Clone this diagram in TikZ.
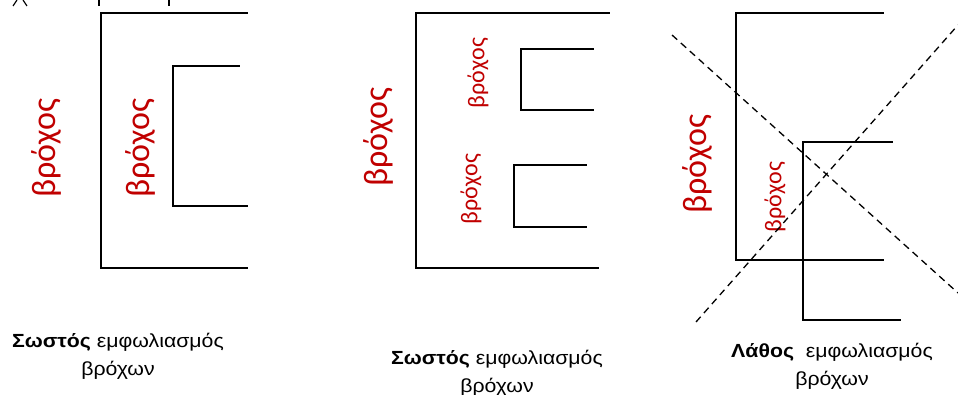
\documentclass[tikz,border=0pt]{standalone}
\usepackage{fontspec}
\setmainfont{Liberation Sans}
\newfontfamily\redfont{Carlito}
\newfontfamily\capfont[FakeStretch=1.12]{Liberation Sans}
\definecolor{loopred}{HTML}{C00000}
\tikzset{
  wire/.style={line width=1.7pt, line cap=rect},
  cross/.style={line width=1.3pt, dash pattern=on 7pt off 5pt},
  bigloop/.style={text=loopred, font=\redfont\fontsize{34}{34}\selectfont, rotate=90, inner sep=0pt},
  smallloop/.style={text=loopred, font=\redfont\fontsize{24}{24}\selectfont, rotate=90, inner sep=0pt},
  caption/.style={font=\capfont\fontsize{19}{28}\selectfont, align=center, inner sep=0pt, anchor=base},
}
\begin{document}
\begin{tikzpicture}[x=1pt,y=-1pt]
\useasboundingbox (0,0) rectangle (958,395);
% cut-off fragments at the top
\draw[line width=1.2pt] (13,6) -- (17,0) (27,6) -- (23,0);
\draw[line width=1.4pt] (99,0) -- (99,6) (169,0) -- (169,6);
% panel 1
\draw[wire] (247,13) -- (101,13) -- (101,268) -- (247,268);
\draw[wire] (239,66) -- (173,66) -- (173,206) -- (247,206);
\node[bigloop] (l1a) at (46,148) {βρόχος};
\node[bigloop] (l1b) at (140,148) {βρόχος};
% panel 2
\draw[wire] (609,13) -- (416,13) -- (416,268) -- (598,268);
\draw[wire] (593,49) -- (521,49) -- (521,110) -- (593,110);
\draw[wire] (586,165) -- (514,165) -- (514,227) -- (586,227);
\node[bigloop] (l2a) at (378,137) {βρόχος};
\node[smallloop] (l2b) at (478,73) {βρόχος};
\node[smallloop] (l2c) at (471,189) {βρόχος};
% panel 3
\draw[wire] (883,13) -- (736,13) -- (736,260) -- (883,260);
\draw[wire] (892,142) -- (803,142) -- (803,320) -- (900,320);
\node[bigloop] (l3a) at (697,164) {βρόχος};
\node[smallloop] (l3b) at (775,197) {βρόχος};
\coordinate (d1s) at (672,35);
\coordinate (d1e) at (958,293);
\coordinate (d2s) at (696,322);
\coordinate (d2e) at (958,25);
\draw[cross] (d1s) -- (d1e);
\draw[cross] (d2s) -- (d2e);
% captions
\node[caption] (c1) at (118,375) {\textbf{Σωστός} εμφωλιασμός\\βρόχων};
\node[caption] (c2) at (497,392) {\textbf{Σωστός} εμφωλιασμός\\βρόχων};
\node[caption] (c3) at (832,385) {\textbf{Λάθος}\ \ εμφωλιασμός\\βρόχων};
\end{tikzpicture}
\end{document}
